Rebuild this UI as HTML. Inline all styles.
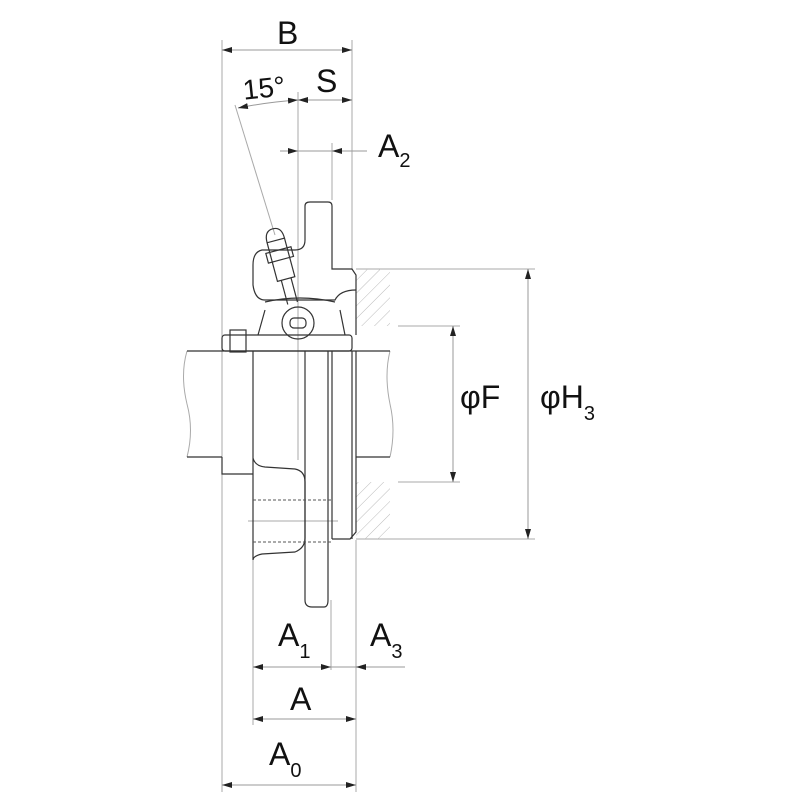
<!DOCTYPE html>
<html><head><style>body{margin:0;background:#fff}svg{display:block}</style></head><body>
<svg width="800" height="800" viewBox="0 0 800 800" xmlns="http://www.w3.org/2000/svg" font-family="Liberation Sans, sans-serif">
<defs>
<marker id="a" viewBox="0 0 10 6" refX="10" refY="3" markerWidth="10" markerHeight="6" orient="auto-start-reverse" markerUnits="userSpaceOnUse"><path d="M0,0L10,3L0,6z" fill="#222"/></marker>
<pattern id="h" width="9" height="9" patternUnits="userSpaceOnUse" patternTransform="rotate(45)"><line x1="0" y1="0" x2="0" y2="9" stroke="#bbb" stroke-width="1"/></pattern>
</defs>
<g stroke="#aaa" stroke-width="1" fill="none">
<line x1="222" y1="40" x2="222" y2="792"/>
<line x1="352" y1="40" x2="352" y2="270"/>
<line x1="356" y1="540" x2="356" y2="792"/>
<line x1="253" y1="560" x2="253" y2="725"/>
<line x1="331" y1="600" x2="331" y2="670"/>
<line x1="298" y1="92" x2="298" y2="460"/>
<line x1="332" y1="143" x2="332" y2="200"/>
<line x1="235" y1="105" x2="275" y2="235"/>
<line x1="356" y1="269" x2="535" y2="269"/>
<line x1="356" y1="539" x2="535" y2="539"/>
<line x1="398" y1="326" x2="460" y2="326"/>
<line x1="398" y1="482" x2="460" y2="482"/>
<line x1="248" y1="521" x2="338" y2="521"/>
<path d="M187,351 Q180,375 187,404 Q194,430 187,457"/>
<path d="M390,351 Q384,375 390,404 Q396,430 390,457"/>
</g>
<rect x="356" y="269" width="34" height="57" fill="url(#h)"/>
<rect x="356" y="482" width="34" height="57" fill="url(#h)"/>
<g stroke="#333" stroke-width="1.2" fill="none">
<line x1="187" y1="351" x2="390" y2="351"/>
<line x1="187" y1="457" x2="222" y2="457"/>
<line x1="356" y1="457" x2="390" y2="457"/>
<rect x="222" y="335" width="130" height="16" rx="3"/>
<path d="M222,457 V474 H253"/>
<path d="M253,351 V458 Q255,466 265,467 L295,469 Q305,471 305,482 V538 Q305,548 295,552 L262,554 Q253,556 253,560 Z"/>
<line x1="305" y1="351" x2="305" y2="470"/>
<line x1="328" y1="351" x2="328" y2="477"/>
<path d="M305,470 V600 Q305,607 312,607 H324 Q328,607 328,600 V477"/>
<line x1="332" y1="351" x2="332" y2="539"/>
<path d="M332,539 H350 L356,532 V351"/>
<line x1="352" y1="351" x2="352" y2="539"/>
<path d="M305,240 V206 Q305,202 310,202 H328 Q332,202 332,206 V269 H352 L356,275 V335"/>
<path d="M305,240 Q305,250 295,250 H262 Q253,252 253,265 V285 Q255,300 265,300 L335,300 Q340,290 356,290"/>
<path d="M265,302 Q300,294 335,302"/>
<path d="M258,335 L265,310 M340,310 L345,335"/>
<circle cx="298" cy="323" r="16"/>
<rect x="290" y="318" width="16" height="10" rx="4"/>
<g transform="rotate(-15 280 260)">
<rect x="272" y="240" width="18" height="40"/>
<rect x="268" y="250" width="26" height="10"/>
<path d="M272,240 Q272,228 281,228 Q290,228 290,240"/>
<line x1="276" y1="280" x2="276" y2="305"/><line x1="286" y1="280" x2="286" y2="305"/>
</g>
<rect x="230" y="330" width="16" height="22"/>
</g>
<g stroke="#555" stroke-width="1" stroke-dasharray="3,2"><line x1="253" y1="500" x2="332" y2="500"/><line x1="253" y1="542" x2="332" y2="542"/></g>
<g stroke="#999" stroke-width="1" fill="none">
<line x1="222" y1="50" x2="352" y2="50" marker-start="url(#a)" marker-end="url(#a)"/>
<line x1="298" y1="100" x2="352" y2="100" marker-start="url(#a)" marker-end="url(#a)"/>
<path d="M238,108 Q268,102 298,100" marker-start="url(#a)" marker-end="url(#a)"/>
<line x1="280" y1="151" x2="298" y2="151" marker-end="url(#a)"/>
<line x1="298" y1="151" x2="332" y2="151"/>
<line x1="367" y1="151" x2="332" y2="151" marker-end="url(#a)"/>
<line x1="253" y1="667" x2="331" y2="667" marker-start="url(#a)" marker-end="url(#a)"/>
<line x1="405" y1="667" x2="356" y2="667" marker-end="url(#a)"/>
<line x1="331" y1="667" x2="356" y2="667"/>
<line x1="253" y1="719" x2="356" y2="719" marker-start="url(#a)" marker-end="url(#a)"/>
<line x1="222" y1="785" x2="356" y2="785" marker-start="url(#a)" marker-end="url(#a)"/>
<line x1="453" y1="326" x2="453" y2="482" marker-start="url(#a)" marker-end="url(#a)"/>
<line x1="528" y1="269" x2="528" y2="539" marker-start="url(#a)" marker-end="url(#a)"/>
</g>
<g fill="#111" font-size="32">
<text x="277" y="44">B</text>
<text x="316" y="92">S</text>
<text x="243" y="98" font-size="28" transform="rotate(-6 260 90)">15°</text>
<text x="378" y="157">A<tspan font-size="20" dy="10">2</tspan></text>
<text x="278" y="646">A<tspan font-size="20" dy="12">1</tspan></text>
<text x="370" y="646">A<tspan font-size="20" dy="12">3</tspan></text>
<text x="290" y="710">A</text>
<text x="269" y="765">A<tspan font-size="20" dy="12">0</tspan></text>
<text x="460" y="408">φF</text>
<text x="540" y="408">φH<tspan font-size="20" dy="12">3</tspan></text>
</g>
</svg>
</body></html>
